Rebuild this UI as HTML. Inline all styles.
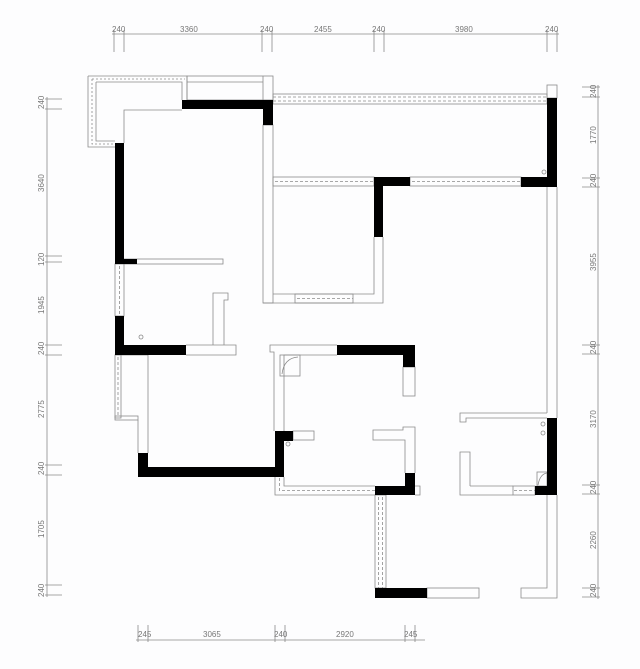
<!DOCTYPE html>
<html><head><meta charset="utf-8"><style>
html,body{margin:0;padding:0;background:#fdfdfe;}
svg{display:block}
text{font-family:"Liberation Sans",sans-serif;font-size:8px;fill:#777}
</style></head><body>
<svg width="640" height="669" viewBox="0 0 640 669" xmlns="http://www.w3.org/2000/svg">
<g stroke="#8a8a8a" stroke-width="0.8" fill="none">
<line x1="112" y1="34" x2="559" y2="34"/>
<line x1="114" y1="30" x2="114" y2="52"/><line x1="124" y1="30" x2="124" y2="52"/>
<line x1="262" y1="30" x2="262" y2="52"/><line x1="272" y1="30" x2="272" y2="52"/>
<line x1="374" y1="30" x2="374" y2="52"/><line x1="384" y1="30" x2="384" y2="52"/>
<line x1="547" y1="30" x2="547" y2="52"/><line x1="557" y1="30" x2="557" y2="52"/>
<line x1="47" y1="97" x2="47" y2="597"/>
<line x1="45" y1="99" x2="62" y2="99"/><line x1="45" y1="109" x2="62" y2="109"/>
<line x1="45" y1="256" x2="62" y2="256"/><line x1="45" y1="262" x2="62" y2="262"/>
<line x1="45" y1="345" x2="62" y2="345"/><line x1="45" y1="355" x2="62" y2="355"/>
<line x1="45" y1="465" x2="62" y2="465"/><line x1="45" y1="475" x2="62" y2="475"/>
<line x1="45" y1="585" x2="62" y2="585"/><line x1="45" y1="595" x2="62" y2="595"/>
<line x1="598" y1="85" x2="598" y2="599"/>
<line x1="582" y1="87" x2="600" y2="87"/><line x1="582" y1="97" x2="600" y2="97"/>
<line x1="582" y1="178" x2="600" y2="178"/><line x1="582" y1="187" x2="600" y2="187"/>
<line x1="582" y1="345" x2="600" y2="345"/><line x1="582" y1="354" x2="600" y2="354"/>
<line x1="582" y1="485" x2="600" y2="485"/><line x1="582" y1="494" x2="600" y2="494"/>
<line x1="582" y1="588" x2="600" y2="588"/><line x1="582" y1="597" x2="600" y2="597"/>
<line x1="136" y1="640" x2="425" y2="640"/>
<line x1="138" y1="625" x2="138" y2="642"/><line x1="148" y1="625" x2="148" y2="642"/>
<line x1="275" y1="625" x2="275" y2="642"/><line x1="285" y1="625" x2="285" y2="642"/>
<line x1="405" y1="625" x2="405" y2="642"/><line x1="415" y1="625" x2="415" y2="642"/>

<path d="M88 76 H187 V100 M88 76 V147 H115 M96 82 H182 V100 M96 82 V141 H115"/>
<path d="M92 79 H185 M92 79 V144 H115" stroke-dasharray="2 2"/>
<rect x="187" y="76" width="86" height="24"/>
<line x1="187" y1="82" x2="263" y2="82"/>
<line x1="263" y1="76" x2="263" y2="100"/>
<path d="M124 143 V110 H182"/>
<rect x="263" y="125" width="10" height="178"/>
<rect x="273" y="94" width="274" height="10"/>
<line x1="273" y1="97" x2="547" y2="97" stroke-dasharray="3 2"/>
<line x1="273" y1="101" x2="547" y2="101" stroke-dasharray="3 2"/>
<rect x="547" y="85" width="10" height="13"/>
<rect x="273" y="177" width="101" height="9"/>
<line x1="275" y1="181.5" x2="374" y2="181.5" stroke-dasharray="3 2"/>
<path d="M374 237 V294 H273 M383 237 V303 H263"/>
<rect x="295" y="294" width="58" height="9"/>
<line x1="297" y1="298.5" x2="353" y2="298.5" stroke-dasharray="3 2"/>
<rect x="410" y="177" width="111" height="9"/>
<line x1="412" y1="181.5" x2="521" y2="181.5" stroke-dasharray="3 2"/>
<path d="M547 187 V413 M557 187 V418"/>
<rect x="124" y="259" width="99" height="5"/>
<rect x="115" y="264" width="9" height="52"/>
<line x1="119.5" y1="266" x2="119.5" y2="316" stroke-dasharray="3 2"/>
<path d="M186 345 H236 V355 H186 M213 345 V293 H228 V300 H224 V345"/>
<rect x="115" y="355" width="6" height="63"/>
<line x1="118" y1="357" x2="118" y2="416" stroke-dasharray="3 2"/>
<rect x="115" y="416" width="23" height="4"/>
<path d="M138 420 V453 M148 355 V453 M121 355 H148"/>
<path d="M337 345 H270 V352 H274 V431 M284 431 V355 H337"/>
<rect x="280" y="355" width="20" height="21"/>
<path d="M282 374 Q284 358 298 357"/>
<rect x="293" y="431" width="21" height="9"/>
<rect x="403" y="367" width="12" height="29"/>
<path d="M405 473 V440 H373 V430 H403 V427 H415 V473"/>
<path d="M415 486 H420 V495 H415"/>
<path d="M275 477 V495 H375 M284 477 V486 H375"/>
<path d="M279.5 478 V490.5 H375" stroke-dasharray="3 2"/>
<rect x="375" y="495" width="11" height="93"/>
<line x1="378.5" y1="497" x2="378.5" y2="588" stroke-dasharray="3 2"/>
<line x1="382.5" y1="497" x2="382.5" y2="588" stroke-dasharray="3 2"/>
<rect x="427" y="588" width="52" height="10"/>
<path d="M547 495 V588 H521 V598 H557 V495"/>
<path d="M547 413 H460 V422 H466 V418 H547 M470 486 V452 H460 V495 H513 M470 486 H513"/>
<rect x="513" y="486" width="22" height="9"/>
<line x1="514" y1="490.5" x2="535" y2="490.5" stroke-dasharray="3 2"/>
<rect x="537" y="472" width="10" height="14"/>
<path d="M538 485 Q540 474 547 473"/>
<circle cx="141" cy="337" r="2"/><circle cx="288" cy="444" r="2"/>
<circle cx="543" cy="424" r="2"/><circle cx="543" cy="433" r="2"/><circle cx="544" cy="172" r="2"/>
</g>
<g fill="#000">
<rect x="182" y="100" width="91" height="9"/>
<rect x="263" y="100" width="10" height="25"/>
<rect x="115" y="143" width="9" height="121"/>
<rect x="124" y="259" width="13" height="5"/>
<rect x="115" y="316" width="9" height="39"/>
<rect x="115" y="345" width="71" height="10"/>
<rect x="374" y="177" width="36" height="9"/>
<rect x="374" y="177" width="9" height="60"/>
<rect x="547" y="98" width="10" height="89"/>
<rect x="521" y="177" width="36" height="10"/>
<rect x="337" y="345" width="78" height="10"/>
<rect x="403" y="345" width="12" height="22"/>
<rect x="138" y="453" width="10" height="24"/>
<rect x="138" y="467" width="146" height="10"/>
<rect x="275" y="431" width="9" height="46"/>
<rect x="275" y="431" width="18" height="10"/>
<rect x="405" y="473" width="10" height="22"/>
<rect x="375" y="486" width="40" height="9"/>
<rect x="375" y="588" width="52" height="10"/>
<rect x="547" y="418" width="10" height="77"/>
<rect x="535" y="486" width="22" height="9"/>
</g>
<text x="112" y="32">240</text><text x="180" y="32">3360</text>
<text x="260" y="32">240</text><text x="314" y="32">2455</text>
<text x="372" y="32">240</text><text x="455" y="32">3980</text>
<text x="545" y="32">240</text>
<g transform="rotate(-90)">
<text x="-109" y="44">240</text><text x="-192" y="44">3640</text>
<text x="-266" y="44">120</text><text x="-314" y="44">1945</text>
<text x="-355" y="44">240</text><text x="-418" y="44">2775</text>
<text x="-475" y="44">240</text><text x="-538" y="44">1705</text>
<text x="-597" y="44">240</text>
<text x="-98" y="596">240</text><text x="-144" y="596">1770</text>
<text x="-187" y="596">240</text><text x="-271" y="596">3955</text>
<text x="-354" y="596">240</text><text x="-428" y="596">3170</text>
<text x="-494" y="596">240</text><text x="-549" y="596">2260</text>
<text x="-597" y="596">240</text>
</g>
<text x="138" y="637">245</text><text x="203" y="637">3065</text>
<text x="274" y="637">240</text><text x="336" y="637">2920</text>
<text x="404" y="637">245</text>
</svg>
</body></html>
